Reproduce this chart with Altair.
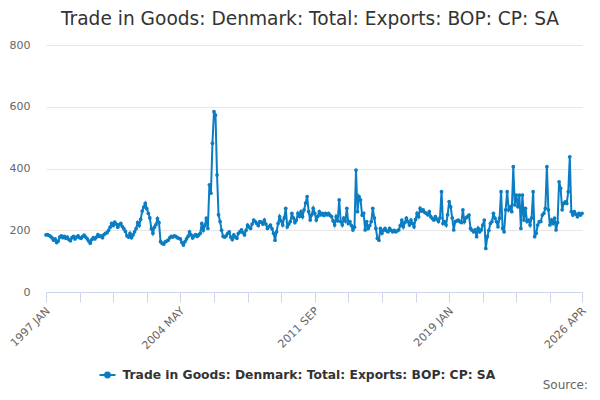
import altair as alt
import pandas as pd

title_text = "Trade in Goods: Denmark: Total: Exports: BOP: CP: SA"
series_name = "Trade in Goods: Denmark: Total: Exports: BOP: CP: SA"
source_text = "Source:"
line_color = "#0b7dc3"

values = [
    185, 186, 183, 180, 175, 168, 172, 160, 165, 178,
    182, 176, 180, 174, 178, 170, 166, 176, 180, 172,
    178, 182, 176, 174, 180, 184, 178, 172, 165, 158,
    170, 176, 172, 178, 186, 180, 182, 176, 186, 190,
    192, 200, 210, 222, 215, 226, 220, 210, 218, 222,
    212, 205, 196, 182, 178, 190, 176, 185, 195, 205,
    225, 215, 235, 262, 275, 287, 270, 255, 240, 205,
    190, 210, 218, 238, 225, 163, 158, 155, 162, 165,
    168, 175, 180, 178, 182, 180, 176, 174, 172, 160,
    152, 163, 172, 180, 195, 185, 175, 182, 186, 180,
    185, 190, 222, 200, 215, 239, 206, 347, 320, 482,
    584, 573, 379, 250, 228, 200, 180, 178, 182, 190,
    195, 178, 170, 185, 178, 174, 190, 195, 201, 192,
    185, 200, 217, 210, 206, 220, 233, 228, 222, 215,
    228, 226, 220, 233, 220, 206, 212, 217, 205, 190,
    168, 195, 222, 244, 230, 217, 240, 271, 211, 220,
    228, 255, 240, 225, 233, 255, 245, 260, 244, 266,
    288, 309, 260, 233, 250, 271, 255, 233, 245, 260,
    250, 255, 248, 255, 250, 255, 248, 244, 230, 217,
    244, 230, 298, 228, 217, 239, 230, 271, 222, 228,
    215, 201, 210, 395, 260, 309, 298, 249, 255, 201,
    228, 206, 215, 228, 271, 240, 206, 174, 168, 206,
    190, 200, 206, 198, 195, 206, 200, 195, 200, 195,
    198, 201, 215, 233, 211, 225, 239, 228, 217, 233,
    222, 211, 235, 255, 244, 271, 262, 266, 258, 255,
    250, 260, 244, 238, 233, 244, 236, 228, 240, 325,
    222, 228, 217, 250, 293, 276, 240, 201, 228, 230,
    233, 228, 225, 266, 228, 240, 244, 249, 206, 200,
    195, 201, 179, 206, 195, 201, 217, 233, 141, 179,
    200, 222, 228, 255, 239, 228, 211, 239, 325, 206,
    195, 266, 325, 266, 276, 260, 406, 282, 314, 276,
    314, 206, 314, 233, 271, 228, 233, 217, 240, 325,
    179, 190, 217, 228, 228, 249, 255, 271, 406, 266,
    217, 233, 222, 239, 201, 225, 357, 336, 266, 287,
    292, 287, 325, 438, 260, 249, 260, 252, 244, 255,
    249, 255,
]

months = pd.date_range("1997-01-01", periods=len(values), freq="MS")
month_labels = [d.strftime("%Y %b").upper() for d in months]
last = len(values) - 1

tick_index = list(range(0, 331, 22)) + [last]
label_index = [0, 88, 176, 264, last]
y_ticks = [0, 200, 400, 600, 800]

label_expr = " : ".join(
    f"datum.value == {i} ? '{month_labels[i]}'" for i in label_index
) + " : ''"

df = pd.DataFrame({
    "idx": list(range(len(values))),
    "month": month_labels,
    "value": values,
    "series": [series_name] * len(values),
})

FONT = "DejaVu Sans"

line = alt.Chart(df).mark_line(
    strokeWidth=2,
    point=alt.OverlayMarkDef(filled=True, size=14),
).encode(
    x=alt.X(
        "idx:Q",
        scale=alt.Scale(domain=[0, last], nice=False, zero=False),
        axis=alt.Axis(
            values=tick_index,
            labelExpr=label_expr,
            title=None,
            grid=False,
            domainColor="#ccd6eb",
            tickColor="#ccd6eb",
            tickSize=10,
            labelAngle=315,
            labelAlign="right",
            labelBaseline="middle",
            labelPadding=7,
            labelOffset=2,
            labelOverlap=False,
            labelFlush=False,
            labelFont=FONT,
            labelFontSize=11,
            labelColor="#666666",
        ),
    ),
    y=alt.Y(
        "value:Q",
        scale=alt.Scale(domain=[0, 800], nice=False),
        axis=alt.Axis(
            values=y_ticks,
            title=None,
            domain=False,
            ticks=False,
            gridColor="#e6e6e6",
            labelPadding=16,
            labelFont=FONT,
            labelFontSize=11,
            labelColor="#666666",
        ),
    ),
    color=alt.Color(
        "series:N",
        scale=alt.Scale(range=[line_color]),
        legend=alt.Legend(
            title=None,
            orient="none",
            legendX=52.5,
            legendY=321,
            padding=0,
            symbolType="M-1,0L1,0M-0.3,0A0.3,0.3 0 1,0 0.3,0A0.3,0.3 0 1,0 -0.3,0",
            symbolSize=256,
            symbolStrokeWidth=2,
            symbolStrokeColor=line_color,
            symbolFillColor=line_color,
            symbolOpacity=1,
            labelOffset=6,
            labelFont=FONT,
            labelFontSize=12.3,
            labelFontWeight="bold",
            labelColor="#333333",
            labelLimit=600,
        ),
    ),
)

title_layer = alt.Chart(pd.DataFrame({"t": [title_text]})).mark_text(
    align="center", baseline="alphabetic", font=FONT, fontSize=18.6, color="#333333"
).encode(
    x=alt.value(264),
    y=alt.value(-20),
    text="t:N",
)

src = alt.Chart(pd.DataFrame({"t": [source_text]})).mark_text(
    align="right", baseline="alphabetic", font=FONT, fontSize=12, color="#666666"
).encode(
    x=alt.value(542),
    y=alt.value(344),
    text="t:N",
)

chart = alt.layer(line, title_layer, src).properties(
    width=536,
    height=247,
    padding={"left": 38, "top": 37, "right": 10, "bottom": 100},
    autosize=alt.AutoSizeParams(type="none"),
).configure_view(stroke=None)

chart.save("out.html", embed_options={"renderer": "svg", "actions": False})
